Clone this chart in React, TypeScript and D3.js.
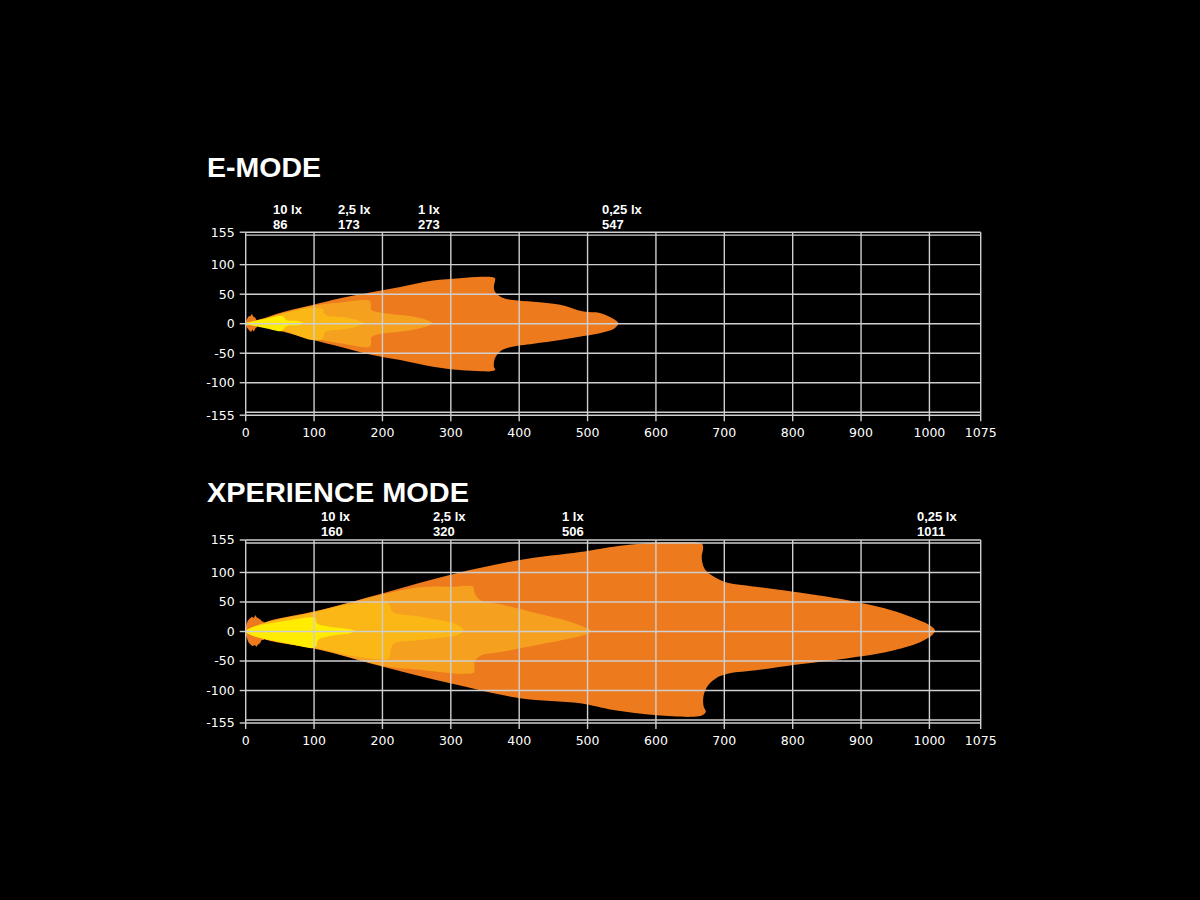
import React, { useEffect } from "react";
import * as d3 from "d3";

type Pt = [number, number];

// ---------- DATA ----------
const LEVELS = ["10 lx", "2,5 lx", "1 lx", "0,25 lx"];
const E_RANGES = [86, 173, 273, 547];
const X_RANGES = [160, 320, 506, 1011];
const X_TICKS = [0, 100, 200, 300, 400, 500, 600, 700, 800, 900, 1000, 1075];
const X_GRID = [0, 100, 200, 300, 400, 500, 600, 700, 800, 900, 1000, 1075];
const Y_TICKS = [155, 100, 50, 0, -50, -100, -155];
const Y_GRID = [155, 150, 100, 50, 0, -50, -100, -150, -155];

// E-MODE isolux contours (distance m, lateral m)
const E_BLOB: Pt[] = [[0, 2], [2, 8], [4, 12], [7, 13], [9, 17], [11, 12], [14, 10], [16, 6], [14, 3], [16, -1], [17, -5], [14, -8], [12, -13.5], [10, -10], [8, -14], [5, -11], [2, -7], [0, -2]];
const E_025: Pt[] = [[0, 1], [21, 7.4], [55, 20], [99, 32], [138, 43], [182, 53], [226, 62], [274, 73], [313, 77], [345, 79.5], [360, 79], [364.6, 77], [365, 74.5], [363, 63], [364.6, 54], [374, 45], [391, 40], [420.6, 37], [460, 32], [494, 20.5], [518, 18.2], [535, 10], [543, 4], [545, 0.5],
  [543, -4], [538, -9], [518, -16], [494, -21], [460, -27.6], [421, -34], [386.6, -40], [372, -47], [364.6, -58.6], [363, -73], [365, -78], [358, -80.5], [345, -80.5], [313, -78.5], [274, -73], [226, -61.5], [182, -52], [138, -39], [99, -27.6], [55, -13.5], [21, -5], [0, -1]];
const E_1: Pt[] = [[0, 0.8], [21, 6], [55, 18.4], [99, 31], [138, 36], [177, 40], [182, 38], [183, 34.5], [184, 23], [196, 19], [226, 14.7], [250, 10.8], [267, 5], [273, 0.6],
  [267, -4], [250, -9], [226, -13.6], [196, -17.5], [184, -23], [183, -36], [181, -39], [177, -40], [138, -33], [99, -25], [55, -12], [21, -4], [0, -0.8]];
const E_25: Pt[] = [[0, 0.8], [21, 5.5], [55, 17.6], [96.5, 27], [111, 26], [113.5, 24], [114.5, 17.6], [118.5, 14], [143, 10.8], [162, 6.3], [172, 0.6],
  [162, -5], [143, -9.5], [118.5, -13], [114.5, -17.5], [113.5, -24], [111, -27], [96.5, -27.6], [55, -12], [21, -4], [0, -0.8]];
const E_10: Pt[] = [[0, 0.5], [13.6, 5], [30.7, 9], [52.6, 13], [56, 10.8], [59, 6.3], [74.6, 4.6], [82, 2.4], [85, 0.6],
  [79, -2], [60, -4], [56, -8], [52.6, -12.4], [30.7, -8], [13.6, -4], [0, -0.5]];

// XPERIENCE MODE isolux contours
const X_BLOB: Pt[] = [[0, 4], [1, 12], [3, 18], [6, 22], [9, 25], [12, 23], [14, 28], [16, 24], [19, 22], [22, 20], [24, 17], [27, 16.5], [25, 12], [28, 9], [26, 5], [29, 2], [27, -2], [29, -6], [26, -10], [27, -14], [23, -15], [21, -20], [18, -22], [16, -26], [13, -23], [10, -25], [7, -22], [4, -18], [2, -12], [0, -5]];
const X_025: Pt[] = [[0, 1], [30.7, 16.6], [104, 35], [201, 65], [304, 97.5], [401, 121], [489, 134.5], [537.6, 143.7], [591, 150], [640, 151], [662, 150.5], [668, 148], [669, 140], [667, 127], [669, 112], [674, 102], [689, 90], [703.5, 83], [752, 75], [801, 67.5], [879, 53.4], [952, 33.6], [985, 19], [1000, 11], [1008, 2.5],
  [1004, -6], [992, -15], [976, -23], [928, -37], [879, -45.6], [801, -56.8], [752, -65], [703.5, -72], [688, -79], [677, -90], [671, -103], [669, -116], [670, -128], [673, -136], [668, -142], [655, -144.4], [601, -142], [537.6, -133], [489, -121.7], [401, -113], [304, -89], [201, -59.6], [104, -30], [30.7, -14.4], [0, -1]];
const X_1: Pt[] = [[0, 0.8], [30.7, 16], [104, 34.5], [201, 63], [255, 75], [304, 76], [330, 77], [333, 75], [335, 64.7], [342.7, 53.4], [377, 45], [425.6, 30.8], [474, 16.6], [499, 5.4], [504.6, 1.4],
  [499, -4.2], [474, -12], [425.6, -23], [377, -34], [342.7, -41.5], [335, -51], [334, -69], [330, -71], [304, -71], [255, -65], [201, -58.5], [104, -29], [30.7, -13.7], [0, -0.8]];
const X_25: Pt[] = [[0, 0.8], [30.7, 15.5], [104, 33.6], [133, 42], [167, 47.8], [206, 48.8], [210, 46], [212, 40], [216, 32], [255, 25], [304, 14], [316, 6.5], [319, 1.4],
  [313, -4.2], [304, -7.6], [255, -14.4], [216, -21], [212, -32.5], [209.5, -45], [206, -47], [167, -43.7], [133, -36], [104, -29], [30.7, -13.7], [0, -0.8]];
const X_10: Pt[] = [[0, 0.5], [11, 8], [60, 18.4], [99, 24], [102, 22], [104, 14], [123, 8], [152.5, 3.7], [160, 0.8],
  [152.5, -3], [123, -7.6], [106, -14.4], [103, -25], [99, -28], [60, -20], [11, -7.6], [0, -0.5]];

// ---------- STYLE / LAYOUT ----------
const COLORS = { c025: "#EE7A1E", c1: "#F5A11F", c25: "#FBB715", c10: "#FFEC00" };
const GRID = "#cfcfcf";
const X0 = 245.7;
const X1 = 980.7;

const PANELS = [
  {
    title: "E-MODE", titleY: 177, titleW: 114, top: 232.2, bottom: 415.2,
    ranges: E_RANGES, labelDx: [-31.5, -26, -14.4, -17.7],
    shapes: [
      { d: E_BLOB, c: COLORS.c025, smooth: false }, { d: E_025, c: COLORS.c025, smooth: true }, { d: E_1, c: COLORS.c1, smooth: true },
      { d: E_25, c: COLORS.c25, smooth: true }, { d: E_10, c: COLORS.c10, smooth: true },
    ],
  },
  {
    title: "XPERIENCE MODE", titleY: 502, titleW: 262, top: 540, bottom: 723,
    ranges: X_RANGES, labelDx: [-34, -31.5, -29.7, -20],
    shapes: [
      { d: X_BLOB, c: COLORS.c025, smooth: false }, { d: X_025, c: COLORS.c025, smooth: true }, { d: X_1, c: COLORS.c1, smooth: true },
      { d: X_25, c: COLORS.c25, smooth: true }, { d: X_10, c: COLORS.c10, smooth: true },
    ],
  },
];

const numFont = "'DejaVu Sans', sans-serif";
const labFont = "'Liberation Sans', Arial, sans-serif";

function Panel({ p }: { p: (typeof PANELS)[number] }) {
  const x = d3.scaleLinear().domain([0, 1075]).range([X0, X1]);
  const y = d3.scaleLinear().domain([-155, 155]).range([p.bottom, p.top]);
  const smoothLine = d3
    .line<Pt>()
    .x((d) => x(d[0]))
    .y((d) => y(d[1]))
    .curve(d3.curveCatmullRomClosed.alpha(0.5));
  const sharpLine = d3
    .line<Pt>()
    .x((d) => x(d[0]))
    .y((d) => y(d[1]))
    .curve(d3.curveLinearClosed);
  return (
    <g>
      <text x={207} y={p.titleY} fill="#fff" fontFamily={labFont} fontWeight={700} fontSize={28.5}
        textLength={p.titleW} lengthAdjust="spacingAndGlyphs">{p.title}</text>
      {p.ranges.map((r, i) => (
        <g key={i} fill="#fff" fontFamily={labFont} fontWeight={700} fontSize={13}>
          <text x={x(r) + p.labelDx[i]} y={p.top - 18.6}>{LEVELS[i]}</text>
          <text x={x(r) + p.labelDx[i]} y={p.top - 3.6}>{r}</text>
        </g>
      ))}
      {p.shapes.map((s, i) => (
        <path key={i} d={(s.smooth ? smoothLine(s.d) : sharpLine(s.d)) || ""} fill={s.c} stroke="none" />
      ))}
      {Y_GRID.map((v) => (
        <line key={"h" + v} x1={X0} x2={X1} y1={y(v)} y2={y(v)} stroke={GRID} strokeWidth={1.4} />
      ))}
      {X_GRID.map((v) => (
        <line key={"v" + v} x1={x(v)} x2={x(v)} y1={p.top} y2={p.bottom + 6} stroke={GRID} strokeWidth={1.4} />
      ))}
      {Y_TICKS.map((v) => (
        <g key={"yt" + v}>
          <line x1={X0 - 6} x2={X0} y1={y(v)} y2={y(v)} stroke={GRID} strokeWidth={1.4} />
          <text x={X0 - 11} y={y(v)} dy="0.35em" textAnchor="end" fill="#fff" fontFamily={numFont} fontSize={12.5}>{v}</text>
        </g>
      ))}
      {X_TICKS.map((v) => (
        <text key={"xt" + v} x={x(v)} y={p.bottom + 22} textAnchor="middle" fill="#fff" fontFamily={numFont} fontSize={12.5}>{v}</text>
      ))}
    </g>
  );
}

export default function App() {
  useEffect(() => {
    document.body.style.margin = "0";
    document.body.style.background = "#000";
  }, []);
  return (
    <svg width={1200} height={900} style={{ position: "absolute", left: 0, top: 0, display: "block" }}>
      <rect x={0} y={0} width={1200} height={900} fill="#000" />
      {PANELS.map((p, i) => (
        <Panel key={i} p={p} />
      ))}
    </svg>
  );
}
